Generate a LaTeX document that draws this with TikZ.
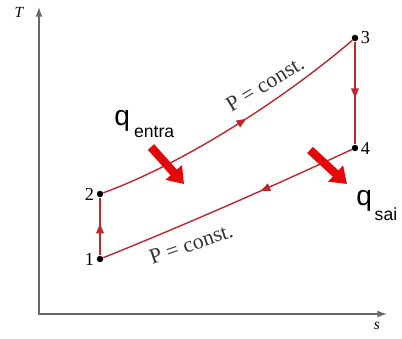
\documentclass[tikz,border=0pt]{standalone}
\usepackage{fontspec}
\setmainfont{Liberation Serif}
\newfontfamily\qfont{Liberation Sans}
\usepackage{xcolor}
\usetikzlibrary{arrows.meta, decorations.markings}

\definecolor{pathred}{RGB}{192,38,44}
\definecolor{heatred}{RGB}{228,8,10}
\definecolor{axisgray}{RGB}{105,105,105}

\begin{document}
\begin{tikzpicture}[x=0.025cm, y=0.025cm,
  axis/.style={{Latex[length=2.4mm, width=1.7mm]}-{Latex[length=2.4mm, width=1.7mm]}, line width=0.9pt, axisgray},
  process/.style={line width=1pt, pathred, postaction={decorate},
    decoration={markings, mark=at position #1 with {\arrow{Triangle[length=7pt, width=5.5pt]}}}},
  heat/.style={-{Triangle[length=11pt, width=15pt]}, line width=6pt, heatred},
  state/.style={circle, fill=black, inner sep=0pt, minimum size=4.6pt},
  num/.style={font=\fontsize{13}{13}\selectfont, inner sep=1.5pt},
  const/.style={font=\fontsize{15.5}{15.5}\selectfont, text=black!80, inner sep=0pt},
  axislabel/.style={font=\itshape\fontsize{11}{11}\selectfont, inner sep=0pt}
]
\useasboundingbox (0,0) rectangle (402,338);

\coordinate (origin) at (39,24);
\coordinate (tTop) at (39,331);
\coordinate (sEnd) at (387,24);
\draw[axis] (tTop) -- (origin) -- (sEnd);
\node[axislabel] (tLabel) at (19,326) {T};
\node[axislabel] (sLabel) at (377,12) {s};

\node[state, label={[num]left:1}] (p1) at (100,79) {};
\node[state, label={[num]left:2}] (p2) at (100,144) {};
\node[state, label={[num]right:3}] (p3) at (355,300) {};
\node[state, label={[num]right:4}] (p4) at (355,190) {};

\draw[process=0.55] (p1) -- (p2);
\draw[process=0.55] (p2) .. controls (185,175) and (285,240) .. (p3);
\draw[process=0.55] (p3) -- (p4);
\draw[process=0.37] (p4) .. controls (280,155) and (185,113) .. (p1);

\node[const, rotate=31] (upperConst) at (265,254) {P = const.};
\node[const, rotate=19] (lowerConst) at (191,94) {P = const.};

\coordinate (inStart) at (151,191);
\coordinate (inEnd) at (184,154);
\draw[heat] (inStart) -- (inEnd);
\coordinate (outStart) at (310,188);
\coordinate (outEnd) at (347,154);
\draw[heat] (outStart) -- (outEnd);

\node[anchor=base west, inner sep=0pt, font=\qfont] (qIn) at (114,213)
  {\fontsize{20}{20}\selectfont q\hspace{3pt}\raisebox{-9pt}{\fontsize{12.5}{12.5}\selectfont entra}};
\node[anchor=base west, inner sep=0pt, font=\qfont] (qOut) at (356,133)
  {\fontsize{20}{20}\selectfont q\hspace{2pt}\raisebox{-11pt}{\fontsize{12.5}{12.5}\selectfont sai}};
\end{tikzpicture}
\end{document}
